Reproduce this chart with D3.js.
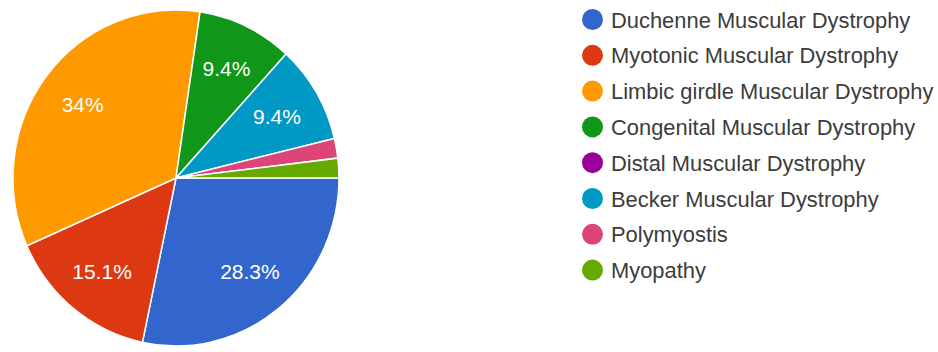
<!DOCTYPE html>
<html>
<head>
<meta charset="utf-8">
<script src="https://cdn.jsdelivr.net/npm/d3@7"></script>
<style>
  html, body { margin: 0; padding: 0; background: #fff; }
  svg { display: block; }
</style>
</head>
<body>
<svg id="chart" width="938" height="352"></svg>
<script>
// Responses per diagnosis (53 in total)
const categories = [
  "Duchenne Muscular Dystrophy",
  "Myotonic Muscular Dystrophy",
  "Limbic girdle Muscular Dystrophy",
  "Congenital Muscular Dystrophy",
  "Distal Muscular Dystrophy",
  "Becker Muscular Dystrophy",
  "Polymyostis",
  "Myopathy"
];
const counts = [15, 8, 18, 5, 0, 5, 1, 1];
const colors = ["#3366cc", "#dc3912", "#ff9900", "#109618", "#990099", "#0099c6", "#dd4477", "#66aa00"];

const data = categories.map((c, i) => ({ name: c, value: counts[i], color: colors[i] }));
const total = d3.sum(counts);

const svg = d3.select("#chart");
const font = "'Liberation Sans', Arial, sans-serif";

// Pie geometry
const cx = 176, cy = 178, rx = 163, ry = 168;
const r = rx;

const pie = d3.pie()
  .value(d => d.value)
  .sort(null)
  .startAngle(Math.PI / 2)
  .endAngle(Math.PI / 2 + 2 * Math.PI);

const arcs = pie(data);
const arc = d3.arc().innerRadius(0).outerRadius(r);
const labelArc = d3.arc().innerRadius(r * 0.72).outerRadius(r * 0.72);

const g = svg.append("g")
  .attr("transform", `translate(${cx},${cy}) scale(1,${ry / rx})`);

g.selectAll("path.slice")
  .data(arcs.filter(d => d.value > 0))
  .join("path")
  .attr("class", "slice")
  .attr("d", arc)
  .attr("fill", d => d.data.color)
  .attr("stroke", "#fff")
  .attr("stroke-width", 1.5)
  .attr("stroke-linejoin", "round");

// Percentage labels on the larger slices
const fmt = v => {
  const p = Math.round(v / total * 1000) / 10;
  return (Number.isInteger(p) ? p.toFixed(0) : p.toFixed(1)) + "%";
};

svg.append("g")
  .selectAll("text")
  .data(arcs.filter(d => d.value / total > 0.05))
  .join("text")
  .attr("x", d => cx + labelArc.centroid(d)[0])
  .attr("y", d => cy + labelArc.centroid(d)[1] * ry / rx)
  .attr("dy", "0.36em")
  .attr("text-anchor", "middle")
  .attr("fill", "#fff")
  .attr("font-family", font)
  .attr("font-size", 21)
  .text(d => fmt(d.value));

// Legend
const legend = svg.append("g").attr("transform", "translate(592.5,19.5)");
const item = legend.selectAll("g")
  .data(data)
  .join("g")
  .attr("transform", (d, i) => `translate(0,${i * 35.8})`);

item.append("circle")
  .attr("r", 10.5)
  .attr("fill", d => d.color);

item.append("text")
  .attr("x", 18.5)
  .attr("y", 8)
  .attr("fill", "#3c3c3c")
  .attr("font-family", font)
  .attr("font-size", 21.9)
  .text(d => d.name);
</script>
</body>
</html>
